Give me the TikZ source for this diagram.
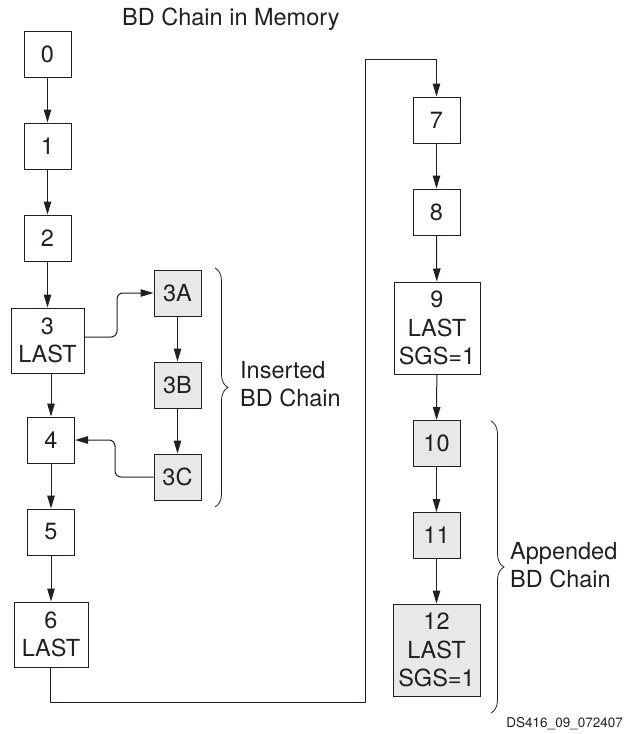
\documentclass[tikz,border=0pt]{standalone}
\usepackage{fontspec}
\setmainfont{TeX Gyre Heros}
\usetikzlibrary{arrows.meta,decorations.pathreplacing}
\definecolor{ink}{HTML}{231F20}
\definecolor{shade}{HTML}{E8E8E8}
\begin{document}
\begin{tikzpicture}[x=1pt,y=-1pt,
  every node/.style={font=\fontsize{23.5}{28.5}\selectfont, text=ink},
  bd/.style={draw=ink, line width=1pt, inner sep=0pt, align=center},
  bdsmall/.style={bd, minimum width=47pt, minimum height=46pt},
  ins/.style={fill=shade},
  arr/.style={draw=ink, line width=1pt, -{Triangle[length=13pt,width=7.5pt]}},
  ln/.style={draw=ink, line width=1pt},
  brc/.style={draw=ink, line width=0.8pt, decorate, decoration={brace, amplitude=13pt}},
  lbl/.style={align=left, anchor=west, inner sep=0pt}]
\useasboundingbox (0,0) rectangle (626,734);

\node[inner sep=0pt, anchor=west] (title) at (122,19) {BD Chain in Memory};

\node[bdsmall] (b0) at (47.5,54) {0};
\node[bdsmall] (b1) at (47.5,146) {1};
\node[bdsmall] (b2) at (47.5,238) {2};
\node[bd, minimum width=73pt, minimum height=65pt] (b3) at (47.5,340.5) {3\\LAST};
\node[bdsmall, ins] (b3A) at (177.5,293) {3A};
\node[bdsmall, ins] (b3B) at (177.5,385) {3B};
\node[bdsmall, ins] (b3C) at (177.5,477) {3C};
\node[bdsmall] (b4) at (51,440) {4};
\node[bdsmall] (b5) at (51,532) {5};
\node[bd, minimum width=74pt, minimum height=65pt] (b6) at (51,634.5) {6\\LAST};

\node[bdsmall] (b7) at (436.5,120) {7};
\node[bdsmall] (b8) at (436.5,212) {8};
\node[bd, minimum width=86pt, minimum height=92pt] (b9) at (437,328) {9\\LAST\\SGS=1};
\node[bdsmall, ins] (b10) at (436.5,443.5) {10};
\node[bdsmall, ins] (b11) at (436.5,535.5) {11};
\node[bd, ins, minimum width=87pt, minimum height=92pt] (b12) at (436.5,650) {12\\LAST\\SGS=1};

\draw[arr] (b0) -- (b1);
\draw[arr] (b1) -- (b2);
\draw[arr] (b2) -- (b2 |- b3.north);
\draw[arr] (b4 |- b3.south) -- (b4);
\draw[arr] (b4) -- (b5);
\draw[arr] (b5) -- (b6);
\draw[arr, rounded corners=6pt] (b3.east |- 0,337) -- (117,337) |- (b3A.west);
\draw[arr] (b3A) -- (b3B);
\draw[arr] (b3B) -- (b3C);
\draw[arr, rounded corners=6pt] (b3C.west) -- (115,477) |- (b4.east);

\coordinate (c1) at (50,702);
\coordinate (c2) at (365,702);
\coordinate (c3) at (365,59);
\draw[arr] (b6.south -| c1) -- (c1) -- (c2) -- (c3) -| (b7.north);

\draw[arr] (b7) -- (b8);
\draw[arr] (b8) -- (b9);
\draw[arr] (b9) -- (b10);
\draw[arr] (b10) -- (b11);
\draw[arr] (b11) -- (b12);

\draw[brc] (215,268) -- (215,507);
\node[lbl] (insl) at (240,384) {Inserted\\BD Chain};
\draw[brc] (491,421) -- (491,713);
\node[lbl] (appl) at (510,565) {Appended\\BD Chain};

\node[inner sep=0pt, anchor=east, font=\fontsize{13.5}{15}\selectfont] (ds) at (623,724) {DS416\_09\_072407};
\end{tikzpicture}
\end{document}
